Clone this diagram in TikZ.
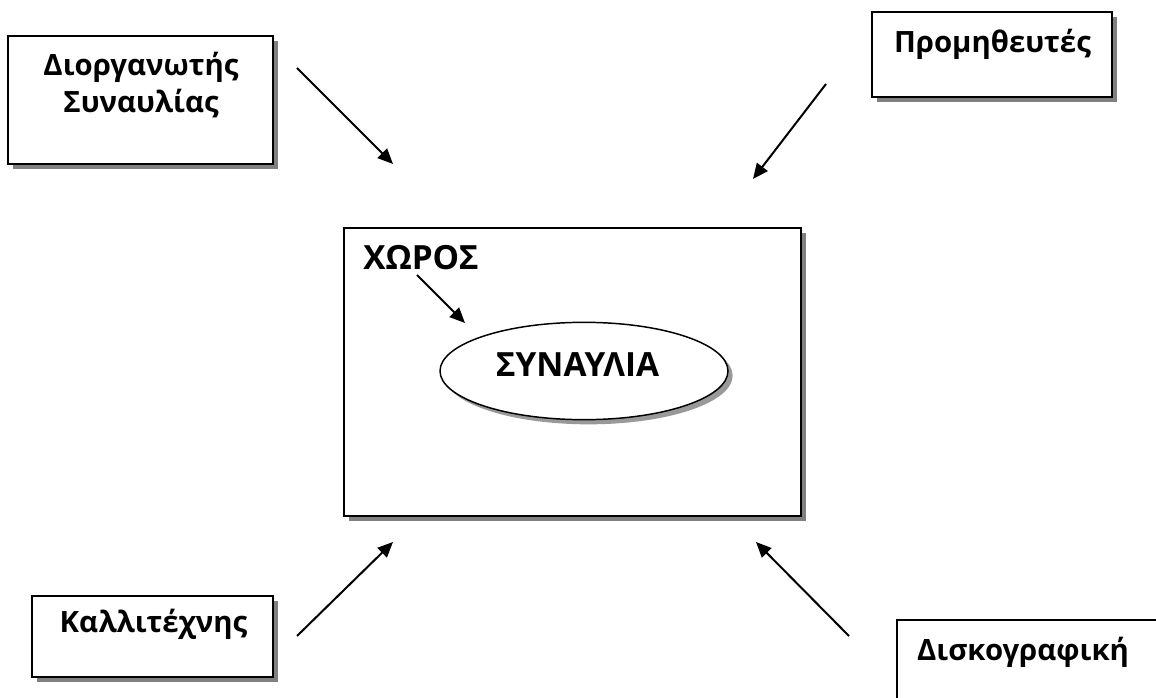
\documentclass[tikz,border=0pt]{standalone}
\usepackage{fontspec}
\setmainfont{Open Sans}
\usetikzlibrary{arrows.meta,shadows,fit,shapes.geometric}
\begin{document}
\begin{tikzpicture}[x=0.75pt,y=-0.75pt,
  box/.style={draw=black, line width=1.4pt, fill=white, inner sep=0pt,
    drop shadow={shadow xshift=4pt, shadow yshift=-4pt, fill=black!50, opacity=1}},
  oval/.style={ellipse, draw=black, line width=1.1pt, fill=white, inner sep=0pt,
    minimum width=216pt, minimum height=73pt,
    drop shadow={shadow xshift=3.5pt, shadow yshift=-3.5pt, fill=black!40, opacity=1}},
  lbl/.style={font=\fontsize{22}{27.75}\selectfont\bfseries, anchor=base,
    inner sep=0pt, align=center},
  caplbl/.style={lbl, font=\fontsize{25}{30}\selectfont\bfseries},
  link/.style={line width=1.5pt, -{Triangle[length=11.5pt,width=10pt]}}]
\clip (0,0) rectangle (1156,698);

% outer actors
\node[box, fit={(8,36) (273,164)}] (org) {};
\node[box, fit={(872,12) (1112,97)}] (sup) {};
\node[box, fit={(32,596) (273,677)}] (art) {};
\node[box, fit={(897,620) (1175,720)}] (rec) {};
\node[lbl] (orgT) at (141,113) {Διοργανωτής\\Συναυλίας};
\node[lbl] (supT) at (992.5,53) {Προμηθευτές};
\node[lbl] (artT) at (153.5,632) {Καλλιτέχνης};
\node[lbl] (recT) at (1023,660) {Δισκογραφική};

% venue with the concert inside
\node[box, fit={(344,228) (801,516)}] (venue) {};
\node[caplbl] (venueT) at (421,270) {ΧΩΡΟΣ};
\node[oval] (gig) at (584,371) {};
\node[caplbl] (gigT) at (577.5,377) {ΣΥΝΑΥΛΙΑ};

% arrow end points
\coordinate (a1s) at (297,68);   \coordinate (a1e) at (393,164);
\coordinate (a2s) at (826,84);   \coordinate (a2e) at (753,179);
\coordinate (a3s) at (297,636);  \coordinate (a3e) at (393,542);
\coordinate (a4s) at (849,636);  \coordinate (a4e) at (756,542);
\coordinate (a5s) at (417,275);  \coordinate (a5e) at (465,323);

\draw[link] (a1s) -- (a1e);
\draw[link] (a2s) -- (a2e);
\draw[link] (a3s) -- (a3e);
\draw[link] (a4s) -- (a4e);
\draw[link] (a5s) -- (a5e);
\end{tikzpicture}
\end{document}
